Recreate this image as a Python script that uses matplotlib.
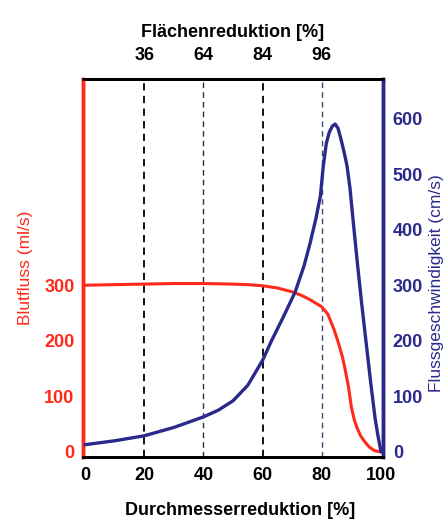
import matplotlib
matplotlib.use("Agg")
import matplotlib.pyplot as plt

# Durchmesserreduktion [%] -> Blutfluss (ml/s)
flow_x = [0, 10, 20, 30, 40, 50, 55, 60, 65, 70, 73, 76, 80, 82, 84, 85.5,
          87, 88, 89, 90, 91, 92, 93, 94, 95, 96, 97, 98, 99, 100]
flow_y = [300, 301, 302, 303, 303, 302, 301, 299, 295, 288, 282, 274, 261,
          248, 222, 198, 170, 145, 117, 80, 57, 42, 30, 22, 15, 9, 5, 2, 1, 0]

# Durchmesserreduktion [%] -> Flussgeschwindigkeit (cm/s)
vel_x = [0, 10, 20, 30, 40, 45, 50, 55, 60, 63, 67, 71, 74, 76, 78, 79.5,
         80.5, 81.5, 82.5, 83.5, 84.5, 85.5, 86.5, 87.5, 88.5, 89.5, 90.5,
         92, 93.5, 95, 96.5, 98, 99, 100]
vel_y = [13, 20, 29, 44, 63, 75, 92, 120, 165, 200, 243, 288, 335, 375, 420,
         460, 515, 555, 575, 586, 590, 582, 562, 540, 515, 475, 420, 340, 265,
         195, 125, 60, 28, 0]

# tick labels
bottom_ticks = [0, 20, 40, 60, 80, 100]
top_ticks = [20, 40, 60, 80]
top_labels = ["36", "64", "84", "96"]
left_ticks = [0, 100, 200, 300]
right_ticks = [0, 100, 200, 300, 400, 500, 600]

RED = "#ff2a1a"
BLUE = "#2b2a8c"

plt.rcParams["font.family"] = ["Liberation Sans", "DejaVu Sans"]

fig = plt.figure(figsize=(4.46, 5.27), dpi=100)
ax = fig.add_axes([0.186, 0.133, 0.673, 0.717])
ax2 = ax.twinx()

# vertical dashed guide lines
ax.axvline(20, color="black", lw=1.3, ls=(0, (4, 3)), zorder=1)
ax.axvline(60, color="black", lw=1.3, ls=(0, (4, 3)), zorder=1)
ax.axvline(40, color="#1f3050", lw=1.0, ls=(0, (4, 3)), zorder=1)
ax.axvline(80, color="#3a4a6a", lw=1.0, ls=(0, (4, 3)), zorder=1)

ax.plot(flow_x, flow_y, color=RED, lw=2.2, zorder=3,
        solid_joinstyle="round", solid_capstyle="round")
ax2.plot(vel_x, vel_y, color=BLUE, lw=2.4, zorder=3,
         solid_joinstyle="round", solid_capstyle="round")

ax.set_xlim(-0.7, 100.7)
ax.set_ylim(-9, 671)
ax2.set_ylim(-9, 671)

ax.set_xticks(bottom_ticks)
ax.set_xticklabels([str(t) for t in bottom_ticks], fontsize=13, fontweight="bold")
ax.set_yticks(left_ticks)
ax.set_yticklabels([str(t) for t in left_ticks], fontsize=13, fontweight="bold", color=RED)
ax2.set_yticks(right_ticks)
ax2.set_yticklabels([str(t) for t in right_ticks], fontsize=13, fontweight="bold", color=BLUE)

ax.tick_params(axis="x", length=0, pad=7)
ax.tick_params(axis="y", length=0, pad=6)
ax2.tick_params(axis="y", length=0, pad=7)

# top axis: area reduction
top = ax.secondary_xaxis("top")
top.set_xticks(top_ticks)
top.set_xticklabels(top_labels, fontsize=13, fontweight="bold")
top.tick_params(length=0, pad=11)
top.spines["top"].set_linewidth(2)

for a in (ax, ax2):
    a.spines["left"].set_color(RED)
    a.spines["left"].set_linewidth(2.5)
    a.spines["right"].set_color(BLUE)
    a.spines["right"].set_linewidth(2.5)
    a.spines["bottom"].set_linewidth(2)
    a.spines["top"].set_linewidth(2)

ax.set_ylabel("Blutfluss (ml/s)", color=RED, fontsize=12.5, labelpad=8)

# right label placed by hand, slightly below the axes centre as in the original
fig.text(0.978, 0.463, "Flussgeschwindigkeit (cm/s)", color=BLUE, fontsize=12.5,
         rotation=90, ha="center", va="center")

fig.text(0.522, 0.939, "Flächenreduktion [%]", ha="center", va="center",
         fontsize=13, fontweight="bold")
fig.text(0.538, 0.032, "Durchmesserreduktion [%]", ha="center", va="center",
         fontsize=13, fontweight="bold")

fig.savefig("out.png", dpi=100)
plt.close(fig)
